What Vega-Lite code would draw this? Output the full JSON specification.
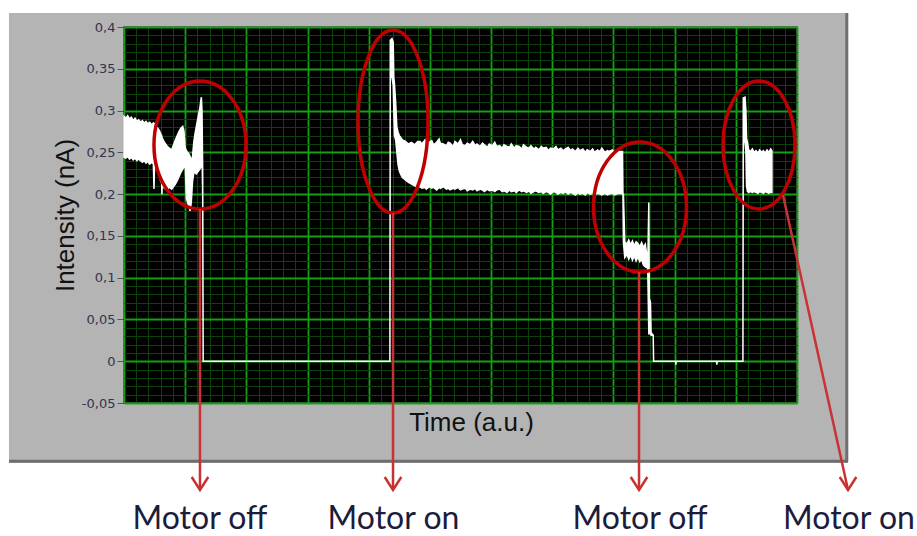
{
  "$schema": "https://vega.github.io/schema/vega-lite/v6.json",
  "width": 673,
  "height": 376,
  "autosize": "none",
  "padding": {"left": 124, "top": 27, "right": 120, "bottom": 133},
  "background": "#b4b4b4",
  "config": {"view": {"fill": "#000000", "stroke": "#4a4a4a", "strokeWidth": 1.5}},
  "resolve": {"scale": {"shape": "independent"}},
  "datasets": {
    "signal": [
      {"t": 0, "hi": 0.293, "lo": 0.244}, {"t": 3, "hi": 0.291, "lo": 0.243}, {"t": 6, "hi": 0.294, "lo": 0.245},
      {"t": 9, "hi": 0.29, "lo": 0.242}, {"t": 12, "hi": 0.292, "lo": 0.244}, {"t": 15, "hi": 0.288, "lo": 0.241},
      {"t": 18, "hi": 0.291, "lo": 0.243}, {"t": 21, "hi": 0.287, "lo": 0.24}, {"t": 24, "hi": 0.289, "lo": 0.242},
      {"t": 27, "hi": 0.286, "lo": 0.24}, {"t": 30, "hi": 0.288, "lo": 0.238}, {"t": 33, "hi": 0.285, "lo": 0.24},
      {"t": 36, "hi": 0.287, "lo": 0.237}, {"t": 39, "hi": 0.284, "lo": 0.239}, {"t": 42, "hi": 0.286, "lo": 0.236},
      {"t": 45, "hi": 0.283, "lo": 0.238}, {"t": 48, "hi": 0.285, "lo": 0.236}, {"t": 49, "hi": 0.283, "lo": 0.206},
      {"t": 50, "hi": 0.284, "lo": 0.236}, {"t": 52, "hi": 0.281, "lo": 0.235}, {"t": 55, "hi": 0.279, "lo": 0.232},
      {"t": 58, "hi": 0.276, "lo": 0.225}, {"t": 60, "hi": 0.272, "lo": 0.215}, {"t": 61.5, "hi": 0.27, "lo": 0.214},
      {"t": 62, "hi": 0.268, "lo": 0.2}, {"t": 62.5, "hi": 0.267, "lo": 0.212}, {"t": 66, "hi": 0.262, "lo": 0.207},
      {"t": 70, "hi": 0.258, "lo": 0.205}, {"t": 74, "hi": 0.255, "lo": 0.208}, {"t": 78, "hi": 0.253, "lo": 0.206},
      {"t": 81, "hi": 0.259, "lo": 0.209}, {"t": 84, "hi": 0.265, "lo": 0.212}, {"t": 87, "hi": 0.27, "lo": 0.216},
      {"t": 90, "hi": 0.275, "lo": 0.221}, {"t": 93, "hi": 0.279, "lo": 0.226}, {"t": 96, "hi": 0.281, "lo": 0.23},
      {"t": 98, "hi": 0.275, "lo": 0.232}, {"t": 100, "hi": 0.255, "lo": 0.235}, {"t": 102, "hi": 0.252, "lo": 0.195},
      {"t": 104, "hi": 0.25, "lo": 0.19}, {"t": 106, "hi": 0.248, "lo": 0.185}, {"t": 108, "hi": 0.245, "lo": 0.18},
      {"t": 110, "hi": 0.24, "lo": 0.19}, {"t": 112, "hi": 0.245, "lo": 0.215}, {"t": 114, "hi": 0.262, "lo": 0.225},
      {"t": 116, "hi": 0.272, "lo": 0.226}, {"t": 118, "hi": 0.28, "lo": 0.224}, {"t": 120, "hi": 0.288, "lo": 0.226},
      {"t": 122, "hi": 0.296, "lo": 0.228}, {"t": 124, "hi": 0.303, "lo": 0.23}, {"t": 125.5, "hi": 0.312, "lo": 0.232},
      {"t": 126.5, "hi": 0.316, "lo": 0.24}, {"t": 127.5, "hi": 0.3, "lo": 0.25}, {"t": 128.6, "hi": 0.23, "lo": 0.2},
      {"t": 129.4, "hi": 0, "lo": 0}, {"t": 434.6, "hi": 0, "lo": 0},
      {"t": 435.2, "hi": 0.384, "lo": 0.34}, {"t": 438, "hi": 0.386, "lo": 0.34}, {"t": 440, "hi": 0.382, "lo": 0.33},
      {"t": 441, "hi": 0.34, "lo": 0.3}, {"t": 442, "hi": 0.333, "lo": 0.27}, {"t": 444, "hi": 0.31, "lo": 0.265},
      {"t": 446, "hi": 0.28, "lo": 0.25}, {"t": 448, "hi": 0.274, "lo": 0.235}, {"t": 450, "hi": 0.27, "lo": 0.228},
      {"t": 452, "hi": 0.268, "lo": 0.224}, {"t": 455, "hi": 0.265, "lo": 0.22}, {"t": 460, "hi": 0.263, "lo": 0.217},
      {"t": 465, "hi": 0.26, "lo": 0.214}, {"t": 470, "hi": 0.262, "lo": 0.212}, {"t": 475, "hi": 0.259, "lo": 0.21},
      {"t": 480, "hi": 0.263, "lo": 0.208},
      {"t": 484, "hi": 0.263, "lo": 0.209}, {"t": 487, "hi": 0.26, "lo": 0.207}, {"t": 492, "hi": 0.265, "lo": 0.208},
      {"t": 494, "hi": 0.261, "lo": 0.206}, {"t": 499, "hi": 0.262, "lo": 0.209}, {"t": 503, "hi": 0.264, "lo": 0.207},
      {"t": 506, "hi": 0.259, "lo": 0.208}, {"t": 511, "hi": 0.262, "lo": 0.205}, {"t": 515, "hi": 0.266, "lo": 0.208},
      {"t": 517, "hi": 0.261, "lo": 0.207}, {"t": 522, "hi": 0.26, "lo": 0.209}, {"t": 527, "hi": 0.258, "lo": 0.206},
      {"t": 530, "hi": 0.262, "lo": 0.207}, {"t": 533, "hi": 0.261, "lo": 0.205}, {"t": 538, "hi": 0.257, "lo": 0.207},
      {"t": 541, "hi": 0.263, "lo": 0.206}, {"t": 546, "hi": 0.26, "lo": 0.208}, {"t": 550, "hi": 0.265, "lo": 0.205},
      {"t": 553, "hi": 0.259, "lo": 0.206}, {"t": 558, "hi": 0.258, "lo": 0.207}, {"t": 561, "hi": 0.261, "lo": 0.204},
      {"t": 566, "hi": 0.259, "lo": 0.206}, {"t": 570, "hi": 0.263, "lo": 0.205}, {"t": 574, "hi": 0.258, "lo": 0.207},
      {"t": 577, "hi": 0.26, "lo": 0.204}, {"t": 582, "hi": 0.257, "lo": 0.206}, {"t": 586, "hi": 0.261, "lo": 0.205},
      {"t": 589, "hi": 0.259, "lo": 0.203}, {"t": 594, "hi": 0.256, "lo": 0.206}, {"t": 597, "hi": 0.26, "lo": 0.204},
      {"t": 602, "hi": 0.258, "lo": 0.205}, {"t": 606, "hi": 0.262, "lo": 0.203}, {"t": 609, "hi": 0.257, "lo": 0.205},
      {"t": 614, "hi": 0.258, "lo": 0.206}, {"t": 618, "hi": 0.255, "lo": 0.203}, {"t": 621, "hi": 0.259, "lo": 0.204},
      {"t": 626, "hi": 0.257, "lo": 0.202}, {"t": 630, "hi": 0.256, "lo": 0.205}, {"t": 633, "hi": 0.26, "lo": 0.203},
      {"t": 638, "hi": 0.255, "lo": 0.204}, {"t": 641, "hi": 0.258, "lo": 0.202}, {"t": 646, "hi": 0.257, "lo": 0.205},
      {"t": 650, "hi": 0.254, "lo": 0.203}, {"t": 653, "hi": 0.259, "lo": 0.204}, {"t": 658, "hi": 0.256, "lo": 0.202},
      {"t": 662, "hi": 0.255, "lo": 0.204}, {"t": 665, "hi": 0.258, "lo": 0.201}, {"t": 670, "hi": 0.254, "lo": 0.203},
      {"t": 673, "hi": 0.256, "lo": 0.204}, {"t": 678, "hi": 0.253, "lo": 0.202}, {"t": 682, "hi": 0.257, "lo": 0.203},
      {"t": 685, "hi": 0.255, "lo": 0.201}, {"t": 690, "hi": 0.256, "lo": 0.203}, {"t": 694, "hi": 0.252, "lo": 0.202},
      {"t": 697, "hi": 0.255, "lo": 0.2}, {"t": 702, "hi": 0.254, "lo": 0.203}, {"t": 706, "hi": 0.257, "lo": 0.202},
      {"t": 709, "hi": 0.253, "lo": 0.2}, {"t": 714, "hi": 0.255, "lo": 0.202}, {"t": 718, "hi": 0.252, "lo": 0.201},
      {"t": 721, "hi": 0.254, "lo": 0.203}, {"t": 726, "hi": 0.256, "lo": 0.2}, {"t": 730, "hi": 0.252, "lo": 0.202},
      {"t": 733, "hi": 0.254, "lo": 0.201}, {"t": 738, "hi": 0.251, "lo": 0.199}, {"t": 742, "hi": 0.255, "lo": 0.202},
      {"t": 745, "hi": 0.252, "lo": 0.2}, {"t": 750, "hi": 0.254, "lo": 0.201}, {"t": 754, "hi": 0.25, "lo": 0.199},
      {"t": 757, "hi": 0.253, "lo": 0.202}, {"t": 762, "hi": 0.251, "lo": 0.2}, {"t": 766, "hi": 0.254, "lo": 0.201},
      {"t": 769, "hi": 0.25, "lo": 0.199}, {"t": 774, "hi": 0.253, "lo": 0.201}, {"t": 778, "hi": 0.251, "lo": 0.2},
      {"t": 781, "hi": 0.255, "lo": 0.199}, {"t": 786, "hi": 0.25, "lo": 0.201}, {"t": 790, "hi": 0.252, "lo": 0.199},
      {"t": 793, "hi": 0.251, "lo": 0.2}, {"t": 798, "hi": 0.253, "lo": 0.201}, {"t": 802, "hi": 0.25, "lo": 0.199},
      {"t": 805, "hi": 0.252, "lo": 0.2}, {"t": 810, "hi": 0.251, "lo": 0.201}, {"t": 814.8, "hi": 0.251, "lo": 0.2},
      {"t": 815.5, "hi": 0.2, "lo": 0.2}, {"t": 816.3, "hi": 0.2, "lo": 0.142}, {"t": 818.5, "hi": 0.143, "lo": 0.124},
      {"t": 822, "hi": 0.14, "lo": 0.128}, {"t": 825, "hi": 0.145, "lo": 0.122}, {"t": 828, "hi": 0.139, "lo": 0.127},
      {"t": 831, "hi": 0.144, "lo": 0.121}, {"t": 834, "hi": 0.138, "lo": 0.126}, {"t": 837, "hi": 0.143, "lo": 0.12},
      {"t": 840, "hi": 0.141, "lo": 0.125}, {"t": 843, "hi": 0.137, "lo": 0.119}, {"t": 846, "hi": 0.142, "lo": 0.122},
      {"t": 849, "hi": 0.136, "lo": 0.115}, {"t": 852, "hi": 0.14, "lo": 0.113}, {"t": 855, "hi": 0.125, "lo": 0.112},
      {"t": 856, "hi": 0.112, "lo": 0.112}, {"t": 857.8, "hi": 0.19, "lo": 0.033}, {"t": 858.6, "hi": 0.075, "lo": 0.033},
      {"t": 860.5, "hi": 0.07, "lo": 0.034}, {"t": 861.5, "hi": 0.034, "lo": 0.031}, {"t": 865, "hi": 0.031, "lo": 0.031},
      {"t": 865.6, "hi": 0, "lo": 0}, {"t": 901.5, "hi": 0, "lo": 0}, {"t": 902, "hi": 0, "lo": -0.004},
      {"t": 902.5, "hi": 0, "lo": 0}, {"t": 968.5, "hi": 0, "lo": 0}, {"t": 969, "hi": 0, "lo": -0.004},
      {"t": 969.5, "hi": 0, "lo": 0}, {"t": 1011.6, "hi": 0, "lo": 0},
      {"t": 1012.2, "hi": 0.315, "lo": 0.262}, {"t": 1015, "hi": 0.316, "lo": 0.262}, {"t": 1016.5, "hi": 0.3, "lo": 0.25},
      {"t": 1017.5, "hi": 0.267, "lo": 0.21}, {"t": 1019, "hi": 0.262, "lo": 0.203}, {"t": 1021, "hi": 0.253, "lo": 0.202},
      {"t": 1024, "hi": 0.251, "lo": 0.203}, {"t": 1027, "hi": 0.254, "lo": 0.202}, {"t": 1030, "hi": 0.25, "lo": 0.203},
      {"t": 1033, "hi": 0.252, "lo": 0.202}, {"t": 1036, "hi": 0.249, "lo": 0.201}, {"t": 1039, "hi": 0.253, "lo": 0.203},
      {"t": 1042, "hi": 0.25, "lo": 0.202}, {"t": 1045, "hi": 0.252, "lo": 0.201}, {"t": 1048, "hi": 0.249, "lo": 0.203},
      {"t": 1051, "hi": 0.253, "lo": 0.202}, {"t": 1054, "hi": 0.25, "lo": 0.201}, {"t": 1057, "hi": 0.254, "lo": 0.202},
      {"t": 1059, "hi": 0.252, "lo": 0.202}
    ],
    "events": [
      {"id": "A", "label": "Motor off", "ct": 124.2, "cv": 0.2588, "t": 124.2, "v": 0.1822, "t2": 124.2, "v2": -0.1541, "lt": 124.2},
      {"id": "B", "label": "Motor on", "ct": 439.7, "cv": 0.2869, "t": 439.7, "v": 0.1774, "t2": 439.7, "v2": -0.1541, "lt": 440.5},
      {"id": "C", "label": "Motor off", "ct": 843.4, "cv": 0.1846, "t": 841.8, "v": 0.1068, "t2": 841.8, "v2": -0.1541, "lt": 843.4},
      {"id": "D", "label": "Motor on", "ct": 1037.9, "cv": 0.2588, "t": 1077.1, "v": 0.199, "t2": 1183.4, "v2": -0.1541, "lt": 1185}
    ]
  },
  "layer": [
    {
      "data": {"values": [{}]},
      "mark": {"type": "rect", "fill": "#ffffff"},
      "encoding": {
        "x": {"datum": -400, "type": "quantitative", "scale": {"domain": [0, 1100], "nice": false, "zero": false}},
        "x2": {"datum": 1500},
        "y": {"datum": 0.4168, "type": "quantitative", "scale": {"domain": [-0.05, 0.4], "nice": false, "zero": false}},
        "y2": {"datum": 0.6}
      }
    },
    {
      "data": {"values": [{}]},
      "mark": {"type": "rect", "fill": "#ffffff"},
      "encoding": {
        "x": {"datum": -400, "type": "quantitative", "scale": {"domain": [0, 1100], "nice": false, "zero": false}},
        "x2": {"datum": 1500},
        "y": {"datum": -0.1215, "type": "quantitative", "scale": {"domain": [-0.05, 0.4], "nice": false, "zero": false}},
        "y2": {"datum": -0.5}
      }
    },
    {
      "data": {"values": [{}]},
      "mark": {"type": "rect", "fill": "#ffffff"},
      "encoding": {
        "x": {"datum": -400, "type": "quantitative", "scale": {"domain": [0, 1100], "nice": false, "zero": false}},
        "x2": {"datum": -188},
        "y": {"datum": 0.6, "type": "quantitative", "scale": {"domain": [-0.05, 0.4], "nice": false, "zero": false}},
        "y2": {"datum": -0.5}
      }
    },
    {
      "data": {"values": [{}]},
      "mark": {"type": "rect", "fill": "#ffffff"},
      "encoding": {
        "x": {"datum": 1183.4, "type": "quantitative", "scale": {"domain": [0, 1100], "nice": false, "zero": false}},
        "x2": {"datum": 1500},
        "y": {"datum": 0.6, "type": "quantitative", "scale": {"domain": [-0.05, 0.4], "nice": false, "zero": false}},
        "y2": {"datum": -0.5}
      }
    },
    {
      "data": {"values": [{}]},
      "mark": {"type": "rule", "color": "#6e6e6e", "strokeWidth": 3},
      "encoding": {
        "x": {"datum": -188, "type": "quantitative", "scale": {"domain": [0, 1100], "nice": false, "zero": false}},
        "x2": {"datum": 1183.4},
        "y": {"datum": -0.1197, "type": "quantitative", "scale": {"domain": [-0.05, 0.4], "nice": false, "zero": false}}
      }
    },
    {
      "data": {"values": [{}]},
      "mark": {"type": "rule", "color": "#6e6e6e", "strokeWidth": 3},
      "encoding": {
        "x": {"datum": 1181.4, "type": "quantitative", "scale": {"domain": [0, 1100], "nice": false, "zero": false}},
        "y": {"datum": 0.4168, "type": "quantitative", "scale": {"domain": [-0.05, 0.4], "nice": false, "zero": false}},
        "y2": {"datum": -0.1197}
      }
    },
    {
      "data": {"name": "signal"},
      "mark": {"type": "area", "color": "#ffffff", "stroke": "#ffffff", "strokeWidth": 1.5, "opacity": 1},
      "encoding": {
        "x": {
          "field": "t", "type": "quantitative",
          "scale": {"domain": [0, 1100], "nice": false, "zero": false},
          "axis": {
            "values": [0,20,40,60,80,100,120,140,160,180,200,220,240,260,280,300,320,340,360,380,400,420,440,460,480,500,520,540,560,580,600,620,640,660,680,700,720,740,760,780,800,820,840,860,880,900,920,940,960,980,1000,1020,1040,1060,1080,1100],
            "tickCount": 200,
            "grid": true,
            "gridColor": {"condition": {"test": "datum.value % 100 === 0", "value": "#14a014"}, "value": "#0a420a"},
            "gridWidth": {"condition": {"test": "datum.value % 100 === 0", "value": 1.8}, "value": 1},
            "gridOpacity": 1,
            "ticks": false, "labels": false, "domain": false,
            "title": "Time (a.u.)",
            "titleFont": "Liberation Sans", "titleFontSize": 26, "titleFontWeight": "normal", "titleColor": "#111111",
            "titlePadding": 6, "titleX": 347
          }
        },
        "y": {
          "field": "hi", "type": "quantitative",
          "scale": {"domain": [-0.05, 0.4], "nice": false, "zero": false},
          "axis": {
            "values": [-0.05,-0.04,-0.03,-0.02,-0.01,0,0.01,0.02,0.03,0.04,0.05,0.06,0.07,0.08,0.09,0.1,0.11,0.12,0.13,0.14,0.15,0.16,0.17,0.18,0.19,0.2,0.21,0.22,0.23,0.24,0.25,0.26,0.27,0.28,0.29,0.3,0.31,0.32,0.33,0.34,0.35,0.36,0.37,0.38,0.39,0.4],
            "tickCount": 200,
            "grid": true,
            "gridColor": {"condition": {"test": "abs(datum.value*20 - round(datum.value*20)) < 0.001", "value": "#14a014"}, "value": "#0a420a"},
            "gridWidth": {"condition": {"test": "abs(datum.value*20 - round(datum.value*20)) < 0.001", "value": 1.8}, "value": 1},
            "gridOpacity": 1,
            "domain": false,
            "ticks": true, "tickSize": 7, "tickColor": "#555555",
            "tickOpacity": {"condition": {"test": "abs(datum.value*20 - round(datum.value*20)) < 0.001", "value": 1}, "value": 0},
            "labelExpr": "abs(datum.value*20 - round(datum.value*20)) < 0.001 ? replace(replace(format(datum.value, '.2~f'), '.', ','), '\u2212', '-') : ''",
            "labelOverlap": false, "labelFlush": false, "labelBound": false,
            "labelFont": "DejaVu Sans", "labelFontSize": 13, "labelColor": "#333350", "labelPadding": 2,
            "title": "Intensity (nA)",
            "titleFont": "Liberation Sans", "titleFontSize": 26, "titleFontWeight": "normal", "titleColor": "#111111",
            "titlePadding": 3
          }
        },
        "y2": {"field": "lo"}
      }
    },
    {
      "data": {"name": "events"},
      "mark": {"type": "point", "filled": false, "color": "#c00000", "strokeWidth": 3.5, "opacity": 1, "size": 33856},
      "encoding": {
        "x": {"field": "ct", "type": "quantitative", "scale": {"domain": [0, 1100], "nice": false, "zero": false}},
        "y": {"field": "cv", "type": "quantitative", "scale": {"domain": [-0.05, 0.4], "nice": false, "zero": false}},
        "shape": {
          "field": "id", "type": "nominal", "legend": null,
          "scale": {
            "domain": ["A", "B", "C", "D"],
            "range": [
              "M 0.5 0 C 0.5 0.3844 0.2762 0.696 0 0.696 C -0.2762 0.696 -0.5 0.3844 -0.5 0 C -0.5 -0.3844 -0.2762 -0.696 0 -0.696 C 0.2762 -0.696 0.5 -0.3844 0.5 0 Z",
              "M 0.3804 0 C 0.3804 0.5493 0.2101 0.9946 0 0.9946 C -0.2101 0.9946 -0.3804 0.5493 -0.3804 0 C -0.3804 -0.5493 -0.2101 -0.9946 0 -0.9946 C 0.2101 -0.9946 0.3804 -0.5493 0.3804 0 Z",
              "M 0.5054 0 C 0.5054 0.3902 0.2791 0.7065 0 0.7065 C -0.2791 0.7065 -0.5054 0.3902 -0.5054 0 C -0.5054 -0.3902 -0.2791 -0.7065 0 -0.7065 C 0.2791 -0.7065 0.5054 -0.3902 0.5054 0 Z",
              "M 0.3913 0 C 0.3913 0.3842 0.2161 0.6957 0 0.6957 C -0.2161 0.6957 -0.3913 0.3842 -0.3913 0 C -0.3913 -0.3842 -0.2161 -0.6957 0 -0.6957 C 0.2161 -0.6957 0.3913 -0.3842 0.3913 0 Z"
            ]
          }
        }
      }
    },
    {
      "data": {"name": "events"},
      "mark": {"type": "rule", "color": "#c83232", "strokeWidth": 2.5},
      "encoding": {
        "x": {"field": "t", "type": "quantitative", "scale": {"domain": [0, 1100], "nice": false, "zero": false}},
        "y": {"field": "v", "type": "quantitative", "scale": {"domain": [-0.05, 0.4], "nice": false, "zero": false}},
        "x2": {"field": "t2"},
        "y2": {"field": "v2"}
      }
    },
    {
      "data": {"name": "events"},
      "mark": {"type": "point", "filled": false, "color": "#c83232", "strokeWidth": 2.5, "opacity": 1, "size": 676},
      "encoding": {
        "x": {"field": "t2", "type": "quantitative", "scale": {"domain": [0, 1100], "nice": false, "zero": false}},
        "y": {"field": "v2", "type": "quantitative", "scale": {"domain": [-0.05, 0.4], "nice": false, "zero": false}},
        "shape": {
          "field": "label", "type": "nominal", "legend": null,
          "scale": {
            "domain": ["Motor off", "Motor on"],
            "range": ["M -0.64 -1 L 0 0 L 0.64 -1", "M -0.64 -1 L 0 0 L 0.64 -1"]
          }
        },
        "angle": {"field": "id", "type": "nominal", "legend": null, "scale": {"domain": ["A", "B", "C", "D"], "range": [0, 0, 0, 347.6]}}
      }
    },
    {
      "data": {"name": "events"},
      "mark": {"type": "text", "font": "Lato", "fontSize": 32, "color": "#1c1c3c", "align": "center", "baseline": "alphabetic"},
      "encoding": {
        "x": {"field": "lt", "type": "quantitative", "scale": {"domain": [0, 1100], "nice": false, "zero": false}},
        "y": {"datum": -0.2011, "type": "quantitative", "scale": {"domain": [-0.05, 0.4], "nice": false, "zero": false}},
        "text": {"field": "label"}
      }
    }
  ]
}
